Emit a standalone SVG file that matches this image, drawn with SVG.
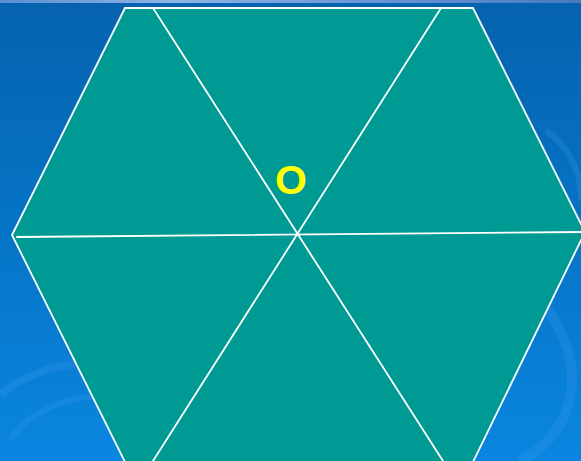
<svg xmlns="http://www.w3.org/2000/svg" width="581" height="461" viewBox="0 0 581 461">
<style>
.ln{stroke:#ffffff;stroke-width:1.8;fill:none;stroke-linecap:round}
.swirl{fill:none;stroke:#3a9cf0;stroke-opacity:0.25}
.lbl{font-family:"Liberation Sans",Arial,sans-serif;font-weight:bold;font-size:41px;fill:#ffff00}
</style>
<defs>
<linearGradient id="bg" x1="0" y1="0" x2="0" y2="1">
<stop offset="0" stop-color="#0562ae"/>
<stop offset="0.5" stop-color="#0674c6"/>
<stop offset="1" stop-color="#0a86e0"/>
</linearGradient>
<linearGradient id="topband" x1="0" y1="0" x2="1" y2="0">
<stop offset="0" stop-color="#5a8ed0"/>
<stop offset="0.3" stop-color="#8fb4e6"/>
<stop offset="0.6" stop-color="#6c9ad8"/>
<stop offset="1" stop-color="#4a78c0"/>
</linearGradient>
</defs>
<rect x="0" y="0" width="581" height="461" fill="url(#bg)"/>
<rect x="0" y="0" width="581" height="3" fill="url(#topband)"/>
<g id="swirls">
<path class="swirl" stroke-width="8" d="M0,395 C40,360 120,350 170,380"/>
<path class="swirl" stroke-width="6" d="M10,440 C40,395 110,385 150,410"/>
<path class="swirl" stroke-width="10" d="M540,300 C590,360 580,430 520,461"/>
<path class="swirl" stroke-width="6" d="M545,130 C575,150 581,180 581,200"/>
</g>
<g id="hexagon">
<polygon points="125,8 473,8 585,232 473,462 125,462 12,235" fill="#009a94" stroke="#ffffff" stroke-width="1.8" stroke-linejoin="miter"/>
</g>
<g id="connectors">
<line class="ln" x1="153" y1="8" x2="443" y2="461"/>
<line class="ln" x1="441" y1="8" x2="153" y2="461"/>
<line class="ln" x1="17" y1="237" x2="582" y2="232"/>
</g>
<g id="label-O">
<text class="lbl" x="291" y="194" text-anchor="middle">O</text>
</g>
</svg>
